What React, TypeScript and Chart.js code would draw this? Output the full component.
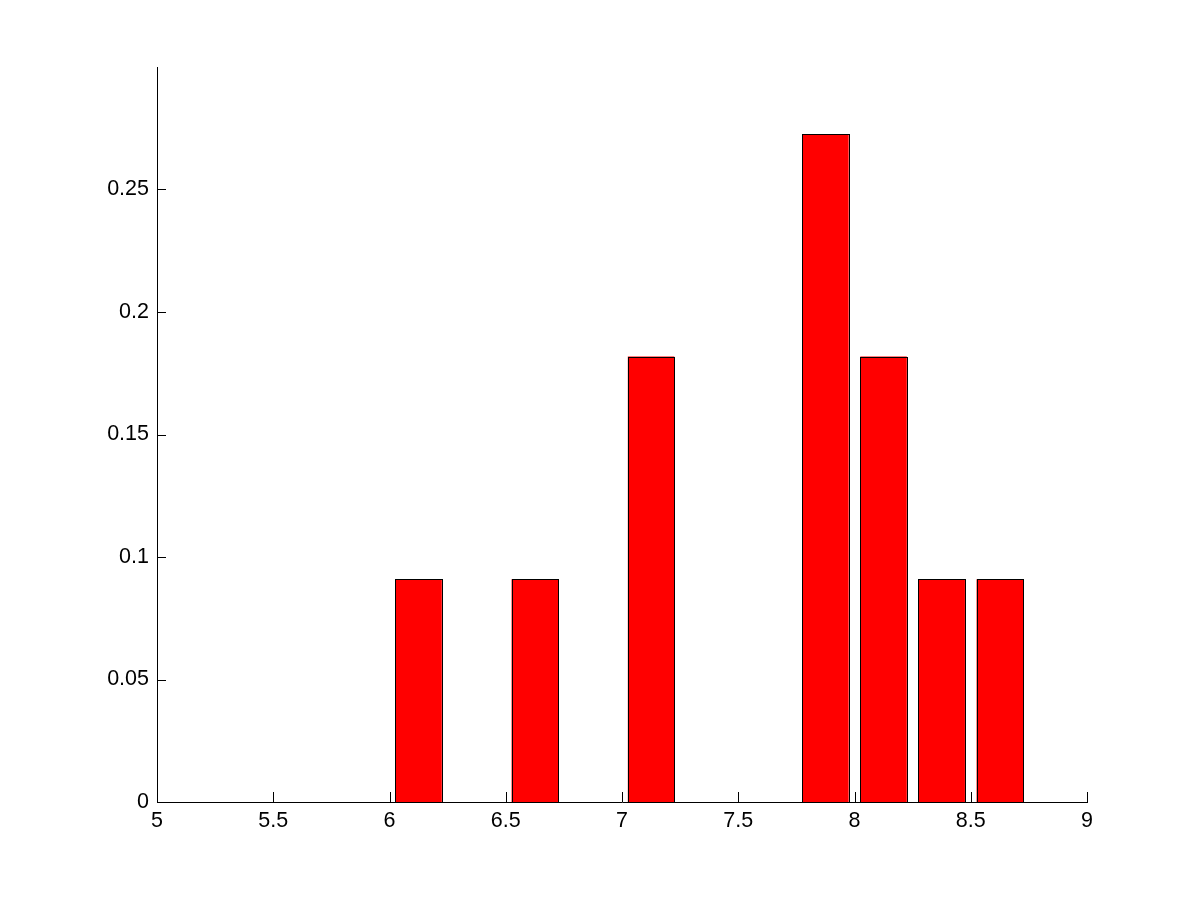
import React, { useEffect, useRef } from "react";
import { Chart, registerables } from "chart.js";

Chart.register(...registerables);

const binCenters = [6.125, 6.375, 6.625, 6.875, 7.125, 7.375, 7.625, 7.875, 8.125, 8.375, 8.625];
const binValues = [0.0909, 0, 0.0909, 0, 0.1818, 0, 0, 0.2727, 0.1818, 0.0909, 0.0909];
const xTickValues = [5, 5.5, 6, 6.5, 7, 7.5, 8, 8.5, 9];
const xTickLabels = ["5", "5.5", "6", "6.5", "7", "7.5", "8", "8.5", "9"];
const yTickValues = [0, 0.05, 0.1, 0.15, 0.2, 0.25];
const yTickLabels = ["0", "0.05", "0.1", "0.15", "0.2", "0.25"];

const FONT = { family: "'Liberation Sans', Arial, Helvetica, sans-serif", size: 21.5, lineHeight: 1 };

const crispOutlines = {
  id: "crispOutlines",
  afterDatasetsDraw(chart: any) {
    const { ctx } = chart;
    const meta = chart.getDatasetMeta(0);
    ctx.save();
    ctx.strokeStyle = "#000";
    ctx.lineWidth = 1;
    meta.data.forEach((bar: any) => {
      const { x, y, base, width } = bar.getProps(["x", "y", "base", "width"], true);
      const l = Math.round(x - width / 2);
      const r = Math.round(x + width / 2);
      const t = Math.round(Math.min(y, base));
      const b = Math.round(Math.max(y, base));
      if (b - t < 1) return;
      ctx.strokeRect(l + 0.5, t + 0.5, r - l, b - t);
    });
    ctx.restore();
  },
};

const inwardTicks = {
  id: "inwardTicks",
  afterDatasetsDraw(chart: any) {
    const { ctx, chartArea } = chart;
    const x = chart.scales.x;
    const y = chart.scales.y;
    ctx.save();
    ctx.strokeStyle = "#000";
    ctx.lineWidth = 1;
    ctx.beginPath();
    x.ticks.forEach((t: any) => {
      const px = Math.round(x.getPixelForValue(t.value)) + 0.5;
      ctx.moveTo(px, chartArea.bottom);
      ctx.lineTo(px, chartArea.bottom - 10);
    });
    y.ticks.forEach((t: any) => {
      const py = Math.round(y.getPixelForValue(t.value)) + 0.5;
      ctx.moveTo(chartArea.left, py);
      ctx.lineTo(chartArea.left + 9, py);
    });
    ctx.stroke();
    ctx.restore();
  },
};

export default function App() {
  const ref = useRef<HTMLCanvasElement | null>(null);
  useEffect(() => {
    document.body.style.margin = "0";
    const canvas = ref.current;
    if (!canvas) return;
    const chart = new Chart(canvas, {
      type: "bar",
      data: {
        datasets: [
          {
            data: binCenters.map((c, i) => ({ x: c, y: binValues[i] })),
            backgroundColor: "#ff0000",
            borderWidth: 0,
            barPercentage: 0.8,
            categoryPercentage: 1,
          } as any,
        ],
      },
      options: {
        animation: false,
        responsive: false,
        devicePixelRatio: 1,
        layout: { padding: { top: 67, right: 114, left: 0, bottom: 0 } },
        plugins: { legend: { display: false }, tooltip: { enabled: false } },
        scales: {
          x: {
            type: "linear",
            offset: false,
            min: 5,
            max: 9,
            grid: { display: false },
            border: { display: true, color: "#000", width: 1 },
            afterBuildTicks: (s: any) => {
              s.ticks = xTickValues.map((v) => ({ value: v }));
            },
            afterFit: (s: any) => {
              s.height = 99;
            },
            ticks: {
              color: "#000",
              font: FONT,
              padding: 0,
              maxRotation: 0,
              autoSkip: false,
              callback: (v: any) => {
                const i = xTickValues.indexOf(Number(v));
                return i >= 0 ? xTickLabels[i] : "";
              },
            },
          },
          y: {
            type: "linear",
            min: 0,
            max: 0.3,
            grid: { display: false, drawTicks: false },
            border: { display: true, color: "#000", width: 1 },
            afterBuildTicks: (s: any) => {
              s.ticks = yTickValues.map((v) => ({ value: v }));
            },
            afterFit: (s: any) => {
              s.width = 157;
            },
            ticks: {
              color: "#000",
              font: FONT,
              padding: 8,
              autoSkip: false,
              callback: (v: any) => {
                const i = yTickValues.indexOf(Number(v));
                return i >= 0 ? yTickLabels[i] : "";
              },
            },
          },
        },
      },
      plugins: [crispOutlines, inwardTicks],
    });
    return () => chart.destroy();
  }, []);
  return (
    <div style={{ width: 1201, height: 901, background: "#fff" }}>
      <canvas ref={ref} width={1201} height={901} style={{ display: "block" }} />
    </div>
  );
}
